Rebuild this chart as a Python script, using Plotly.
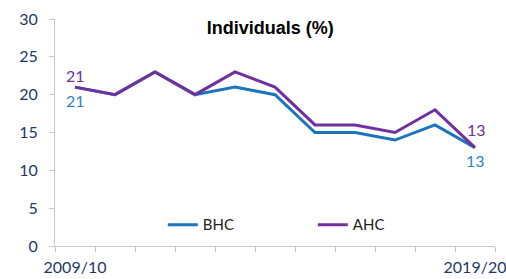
import plotly.graph_objects as go

years = ["2009/10", "2010/11", "2011/12", "2012/13", "2013/14", "2014/15",
         "2015/16", "2016/17", "2017/18", "2018/19", "2019/20"]
bhc = [21, 20, 23, 20, 21, 20, 15, 15, 14, 16, 13]
ahc = [21, 20, 23, 20, 23, 21, 16, 16, 15, 18, 13]
tick_labels = ["2009/10", "", "", "", "", "", "", "", "", "", "2019/20"]

BLUE = "#1b75bc"
PURPLE = "#7030a0"
NAVY = "#1f3864"
AXIS = "#c0c8d8"

fig = go.Figure()
fig.add_trace(go.Scatter(
    x=years, y=bhc, name="BHC", mode="lines",
    line=dict(color=BLUE, width=3),
))
fig.add_trace(go.Scatter(
    x=years, y=ahc, name="AHC", mode="lines",
    line=dict(color=PURPLE, width=3),
))

# end-point data labels
for idx, ys_a, ys_b, xs in [(0, 12, -13, 0), (len(years) - 1, 18, -13, 1)]:
    fig.add_annotation(x=years[idx], y=ahc[idx], text=str(ahc[idx]), showarrow=False,
                       yshift=ys_a, xshift=xs,
                       font=dict(family="Lato", size=16, color=PURPLE))
    fig.add_annotation(x=years[idx], y=bhc[idx], text=str(bhc[idx]), showarrow=False,
                       yshift=ys_b,
                       font=dict(family="Lato", size=16, color="#2e86c1"))

fig.update_layout(
    width=506, height=279,
    margin=dict(l=55, r=11, t=19, b=33),
    paper_bgcolor="white", plot_bgcolor="white",
    font=dict(family="Lato", size=16, color=NAVY),
    title=dict(text="<b>Individuals (%)</b>", x=0.534, xanchor="center",
               y=0.9, yanchor="middle",
               font=dict(family="Liberation Sans", size=18, color="black")),
    showlegend=True,
    legend=dict(orientation="h", x=0.245, xanchor="left", y=0.093, yanchor="middle",
                font=dict(family="Lato", size=15, color="#222222"),
                entrywidth=105, entrywidthmode="pixels",
                bgcolor="rgba(0,0,0,0)"),
)
fig.update_xaxes(
    type="category", range=[-0.5, 10.5],
    tickmode="array", tickvals=years, ticktext=tick_labels, tickangle=0,
    tickson="boundaries", ticks="outside", ticklen=5, tickcolor=AXIS,
    showline=True, linecolor=AXIS, linewidth=1, showgrid=False,
    ticklabelstandoff=7, automargin=False,
    tickfont=dict(family="Lato", size=16, color=NAVY),
)
fig.update_yaxes(
    range=[0, 30], tickmode="array", tickvals=[0, 5, 10, 15, 20, 25, 30],
    ticks="outside", ticklen=5, tickcolor=AXIS,
    showline=True, linecolor=AXIS, linewidth=1, showgrid=False, zeroline=False,
    ticklabelstandoff=8, automargin=False,
    tickfont=dict(family="Lato", size=16, color=NAVY),
)

fig.write_html("out.html",
               config={"displayModeBar": False},
               post_script="document.body.style.margin='0';document.body.style.overflow='hidden';")
